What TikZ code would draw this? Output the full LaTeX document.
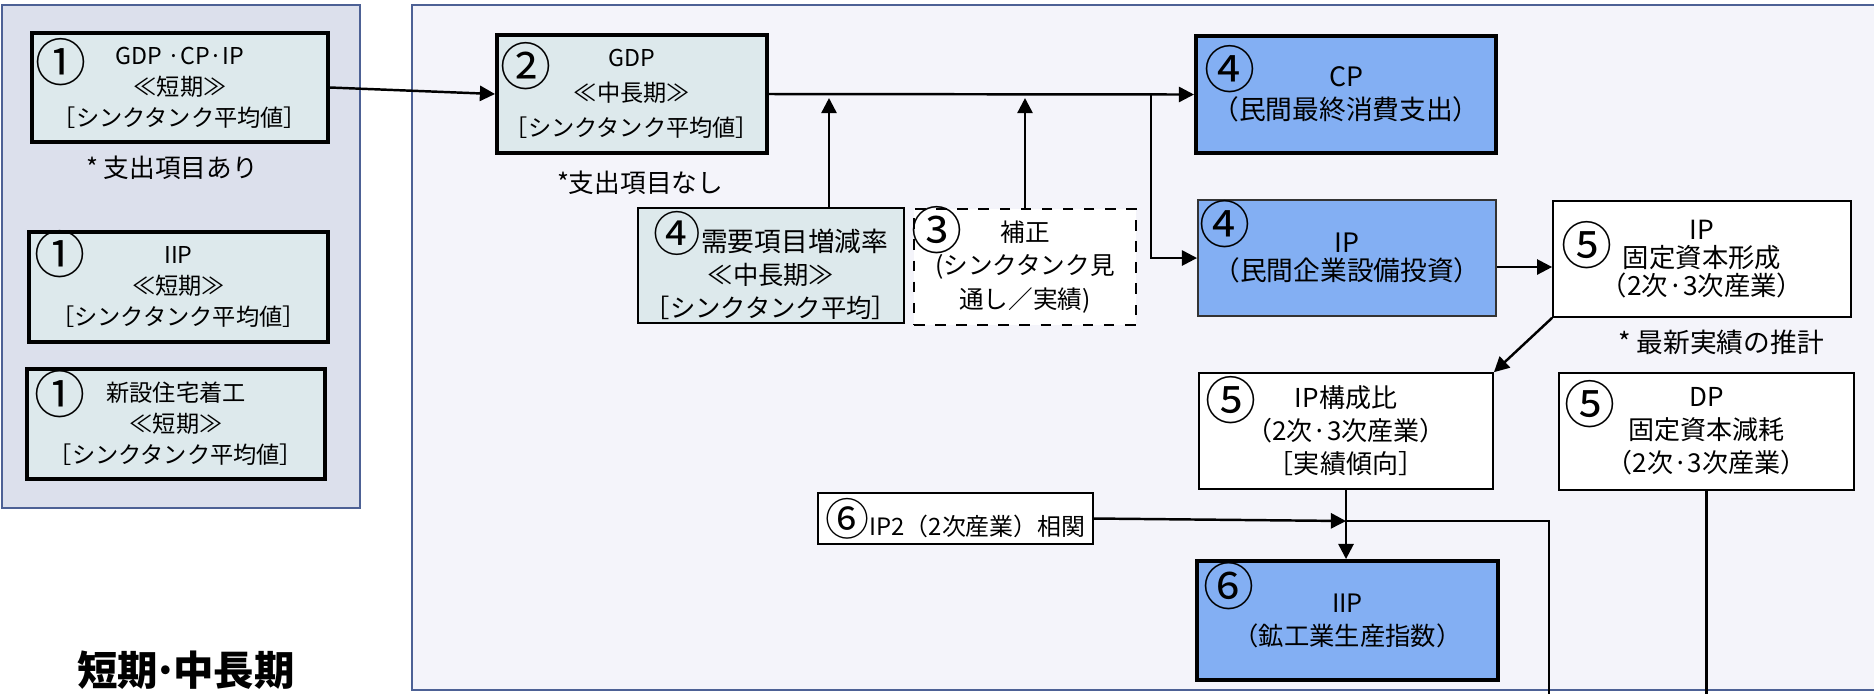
\documentclass[tikz,border=0pt]{standalone}
\usepackage{fontspec}
\setmainfont{Noto Sans CJK JP}
\usetikzlibrary{arrows.meta,calc}
\definecolor{panelL}{HTML}{DCE0EC}
\definecolor{panelR}{HTML}{F4F4FA}
\definecolor{panelLine}{HTML}{4D6195}
\definecolor{lightBox}{HTML}{DDE9EC}
\definecolor{blueBox}{HTML}{83AFF3}
\newcommand{\numfont}{\fontsize{14.5}{14.5}\selectfont}
\newcommand{\fs}[2]{\fontsize{#1}{#2}\selectfont}
\newcommand{\dt}{\kern-0.12em·\kern-0.12em}
\begin{document}
\begin{tikzpicture}[x=0.01cm, y=-0.01cm,
    box/.style={draw, rectangle, align=center, inner sep=0pt},
    heavy/.style={box, line width=1.1pt},
    light/.style={box, line width=0.45pt},
    num/.style={inner sep=0pt, font=\numfont},
    note/.style={inner sep=0pt, font=\fs{7.3}{8}},
    line/.style={line width=0.7pt},
    arr/.style={line, -{Triangle[length=4.3pt, width=4.3pt]}}]
    \useasboundingbox (0,0) rectangle (1874,693);

    % Panels
    \draw[panelLine, line width=0.6pt, fill=panelL] (2,5) rectangle (360,508);
    \draw[panelLine, line width=0.6pt, fill=panelR] (412,5) rectangle (1900,690);

    % Short term inputs
    \node[heavy, fill=lightBox, minimum width=2.96cm, minimum height=1.09cm, font=\fs{6.6}{8.8}]
        (b1a) at (180,87.5) {GDP ·CP·IP\\≪短期≫\\［シンクタンク平均値］};
    \node[num] at (61,62) {①};
    \node[note] (n1) at (172,168) {* 支出項目あり};

    \node[heavy, fill=lightBox, minimum width=2.99cm, minimum height=1.10cm, font=\fs{6.6}{8.8}]
        (b1b) at (178.5,287) {IIP\\≪短期≫\\［シンクタンク平均値］};
    \node[num] at (60,254) {①};

    \node[heavy, fill=lightBox, minimum width=2.98cm, minimum height=1.10cm, font=\fs{6.6}{8.8}]
        (b1c) at (176,424) {新設住宅着工\\≪短期≫\\［シンクタンク平均値］};
    \node[num] at (60,394) {①};

    \node[font=\fs{11.5}{12}\bfseries] (title) at (186,670) {短期\dt 中長期};

    % Medium-long term
    \node[heavy, fill=lightBox, minimum width=2.70cm, minimum height=1.18cm, font=\fs{6.6}{10}]
        (b2) at (632,94) {GDP\\≪中長期≫\\［シンクタンク平均値］};
    \node[num] at (526,66) {②};
    \node[note] (n2) at (640,183) {*支出項目なし};

    \node[box, line width=0.35pt, fill=lightBox, minimum width=2.66cm, minimum height=1.15cm, font=\fs{7.2}{9.5}]
        (bdemand) at (771,265.5) {{\fs{13.5}{11}④}{\fs{7.6}{9.5}需要項目増減率}\\≪中長期≫\\［シンクタンク平均］};
    \node[box, dashed, line width=0.5pt, fill=white, minimum width=2.22cm, minimum height=1.16cm, font=\fs{7}{9.6}]
        (bcorr) at (1025,267) {補正\\(シンクタンク見\\通し／実績)};
    \node[num] at (937,230) {③};

    \node[heavy, fill=blueBox, minimum width=3.00cm, minimum height=1.17cm, font=\fs{7.6}{9.4}]
        (b4cp) at (1346,94.5) {CP\\（民間最終消費支出）};
    \node[num] at (1230,69) {④};

    \node[box, line width=0.5pt, draw=black!80, fill=blueBox, minimum width=2.98cm, minimum height=1.16cm, font=\fs{7.6}{7.8}]
        (b4ip) at (1347,258) {IP\\（民間企業設備投資）};
    \node[num] at (1225,224) {④};

    \node[light, fill=white, minimum width=2.98cm, minimum height=1.16cm, font=\fs{7.5}{7.9}]
        (b5ip) at (1702,259) {IP\\固定資本形成\\（2次·3次産業）};
    \node[num] at (1587,245) {⑤};
    \node[note, font=\fs{7.6}{8}] (n3) at (1721,342) {* 最新実績の推計};

    \node[light, fill=white, minimum width=2.94cm, minimum height=1.16cm, font=\fs{7.4}{9.4}]
        (bratio) at (1346,431) {IP構成比\\（2次·3次産業）\\［実績傾向］};
    \node[num] at (1231,400) {⑤};

    \node[light, fill=white, minimum width=2.95cm, minimum height=1.17cm, font=\fs{7.4}{9.4}]
        (bdp) at (1706.5,431.5) {DP\\固定資本減耗\\（2次·3次産業）};
    \node[num] at (1590,404) {⑤};

    \node[box, line width=0.6pt, fill=white, minimum width=2.75cm, minimum height=0.51cm, font=\fs{6.8}{8}]
        (bip2) at (955.5,518.5) {{\fs{12.5}{11}⑥}IP2（2次産業）相関};

    \node[heavy, fill=blueBox, minimum width=3.01cm, minimum height=1.19cm, font=\fs{7.2}{9.4}]
        (biip) at (1347.5,620.5) {IIP\\（鉱工業生産指数）};
    \node[num] at (1229,586) {⑥};

    % Connectors
    \coordinate (split) at (1151,94);
    \coordinate (j1) at (829,98);
    \coordinate (j2) at (1025,98);
    \coordinate (j3) at (1346,521);
    \coordinate (outA) at (1549,700);
    \draw[arr] (b1a.east) -- (b2.west);
    \draw[arr] (b2.east) -- (b4cp.west);
    \draw[arr] (split) |- (b4ip.west);
    \draw[arr] (bdemand.north -| j1) -- (j1);
    \draw[arr] (bcorr.north) -- (j2);
    \draw[arr] ([yshift=-0.09cm]b4ip.east) -- ([yshift=-0.08cm]b5ip.west);
    \draw[arr] (b5ip.south west) -- (bratio.north east);
    \draw[arr] (bratio.south) -- (bratio.south |- biip.north);
    \draw[arr] (bip2.east) -- (j3);
    \draw[line] (outA) |- (j3);
    \draw[line] (bdp.south) -- (bdp.south |- outA);
\end{tikzpicture}
\end{document}
